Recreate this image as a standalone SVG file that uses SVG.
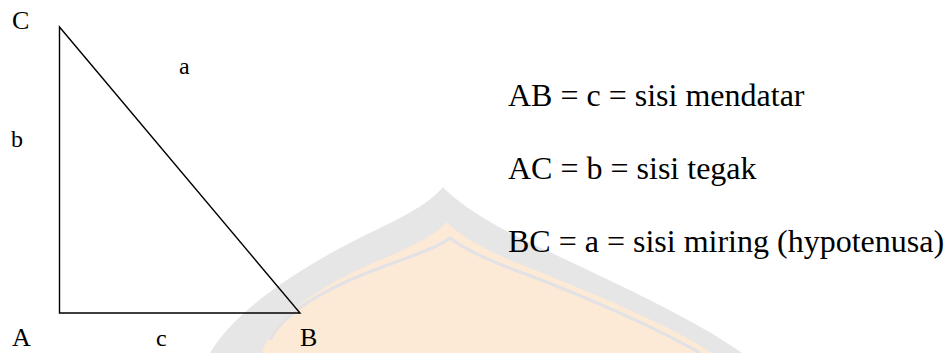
<svg xmlns="http://www.w3.org/2000/svg" width="949" height="353" viewBox="0 0 949 353">
<style>
.t{font-family:'Liberation Serif','Times New Roman',Times,serif;fill:#000}
.lbl{font-size:26px}
.sm{font-size:24px}
.def{font-size:32px}
.edge{stroke:#000;stroke-width:1.4;fill:none;stroke-linejoin:miter}
</style>
<rect width="949" height="353" fill="#fff"/>
<g id="watermark">
<path d="M210 353 C235 310 300 266 378 229 C414 212 432 200 443 187 C455 200 480 218 520 238 C600 276 690 316 742 353 Z" fill="#e6e6e6"/>
<path d="M262 353 C272 318 320 285 380 260 C414 246 436 234 447 222 C458 234 480 248 520 264 C590 292 670 325 712 353 Z" fill="#fce9d6"/>
<path d="M270 340 C285 310 330 286 385 266 C418 254 440 246 450 238 C460 246 482 258 520 272 C590 298 660 330 700 353" fill="none" stroke="#e2e2e6" stroke-width="3"/>
</g>
<g id="connectors">
<path class="edge" d="M59.5 27 L59.5 313 L300 313 Z"/>
</g>
<g id="node-C"><text class="t lbl" x="12" y="29">C</text></g>
<g id="node-A"><text class="t lbl" x="12" y="346">A</text></g>
<g id="node-B"><text class="t lbl" x="300" y="346">B</text></g>
<g id="label-a"><text class="t sm" x="179" y="74">a</text></g>
<g id="label-b"><text class="t sm" x="11" y="147">b</text></g>
<g id="label-c"><text class="t sm" x="156" y="346">c</text></g>
<g id="definitions">
<text class="t def" x="508" y="106">AB = c = sisi mendatar</text>
<text class="t def" x="508" y="179">AC = b = sisi tegak</text>
<text class="t def" x="508" y="252">BC = a = sisi miring (hypotenusa)</text>
</g>
</svg>
